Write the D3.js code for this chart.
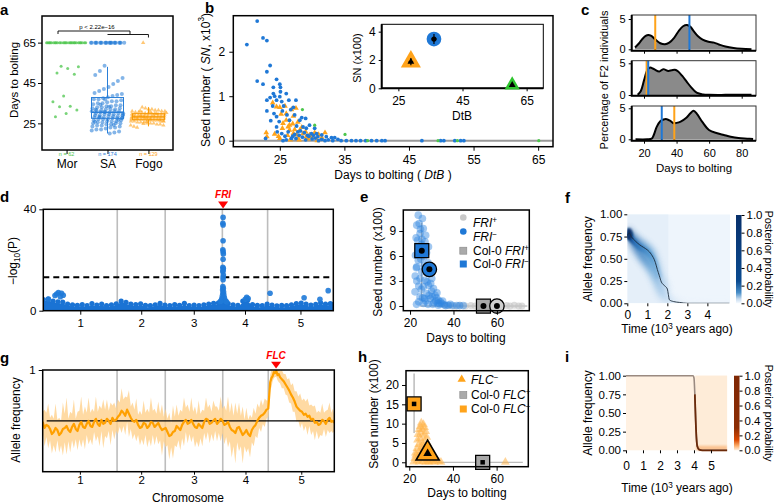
<!DOCTYPE html>
<html><head><meta charset="utf-8">
<script src="https://cdn.jsdelivr.net/npm/d3@7"></script>
<style>
body{margin:0;background:#fff;}
svg{display:block;font-family:'Liberation Sans',Arial,Helvetica,sans-serif;}
</style></head><body>
<svg id="fig" width="776" height="504"></svg>
<script>
// ================= DATA =================
// Panel a
const groupsA = ["Mor", "SA", "Fogo"];
const countLabelsA = ["n = 62", "n = 174", "n = 129"];
const pLabelA = "p < 2.22e\u221216";
const morDays = [65,65,65,65,65,65,65,65,65,65,65,65,65,65,65,65,65,65,65,65,65,65,65,65,65,65,65,65,
  53.3,53,52.2,50,49.3,38.5,35.7,33.5,33.2,31.6,29.9,28.3];
const saDays = [65,65,65,65,65,65,65,65,65,65,65,65,65,65,65,65,65,65,65,65,65,65,
  53.5,51,49,47.5,46,44.5,43,42,41,40,39.5,39,38.5,38,37.5,37,37,36.5,36,36,35.5,35,35,34.5,34,34,33.5,33.5,
  33,33,32.5,32.5,32,32,32,31.5,31.5,31,31,31,30.5,30.5,30.5,30,30,30,29.5,29.5,29.5,29,29,29,28.5,28.5,28.5,
  28,28,28,27.5,27.5,27.5,27,27,27,26.5,26.5,26,26,26,25.5,25.5,25,25,25,24.5,24.5,24,24,23.5,23.5,23,23,22.5,
  22,22,21.5,21,20.5,20,36.8,34.2,31.8,29.2,26.8,24.2,33.2,30.8,28.2,25.8,27.8];
const fogoDays = [65,33,32.5,32,32,31.5,31.5,31,31,31,30.5,30.5,30.5,30,30,30,30,29.5,29.5,29.5,29.5,29,29,29,29,29,
  28.5,28.5,28.5,28.5,28.5,28,28,28,28,28,28,27.5,27.5,27.5,27.5,27.5,27,27,27,27,27,26.5,26.5,26.5,26.5,26,26,26,26,
  25.5,25.5,25.5,25,25,25,24.5,24.5,24,24,23.5,23,28.8,28.2,27.8,27.2,29.2,29.8,26.8,26.2,30.2,28.6,27.4,31.2,24.8,25.8,30.8];
const saBox = [20, 27.5, 30.5, 37.8, 53];     // min, q1, median, q3, max
const fogoBox = [23.5, 26.8, 28.2, 29.8, 33];

// Panel b  [days to bolting, seed number x1000]
const bSA = [[19.9,2.16],[21.5,2.69],[22.4,2.31],[23.0,2.25],[21.5,1.34],[22.4,1.27],[23.5,1.69],[23.0,1.55],[24.5,1.38],
  [24.0,1.2],[24.0,1.06],[23.5,0.97],[23.0,0.91],[23.0,0.67],[23.9,0.78],[24.1,0.61],[24.5,0.54],[25.0,1.27],[25.1,1.2],
  [25.1,1.1],[25.0,0.99],[25.3,0.88],[24.5,0.91],[25.4,0.67],[24.9,0.43],[24.5,0.31],[25.3,0.16],[25.5,0.0],[26.0,1.06],
  [26.4,0.91],[26.1,0.58],[26.5,0.46],[26.3,0.2],[27.1,0.75],[27.5,0.91],[27.3,0.58],[27.6,0.33],[27.8,0.2],[28.1,0.46],
  [28.4,0.52],[28.6,0.31],[29.0,0.5],[29.1,0.28],[29.6,0.35],[29.9,0.16],[30.4,0.28],[30.7,0.16],[30.9,0.09],[31.5,0.13],
  [32.2,0.09],[33.0,0.07],[33.5,0.07],[34.0,0.03],[27.0,0.1],[27.5,0.05],[28.0,0.12],[28.5,0.08],[29.0,0.02],[29.5,0.1],
  [30.0,0.04],[30.5,0.06],[31.0,0.0],[31.5,0.03],[32.0,0.0],[28.2,0.22],[28.8,0.18],[29.3,0.12],[30.2,0.12],[27.3,0.14],
  [26.8,0.05],[26.0,0.02],[25.8,0.1],[32.5,0.02],[33.2,0.0],[34.5,0],[35.3,0],[36.1,0],[36.8,0],[37.5,0],[38.3,0],[39.2,0],
  [40.0,0],[40.8,0],[41.3,0],[47.0,0],[49.9,0],[50.4,0],[52.1,0],[53.0,0],[53.5,0],[24.2,1.0],[25.6,0.78],[26.7,0.7],
  [23.6,0.45],[24.6,0.2],[22.8,0.05]];
const bFogo = [[22.9,0.18],[23.0,0.09],[23.9,0.85],[24.5,0.76],[25.0,0.75],[25.4,0.28],[25.8,0.78],[26.0,0.61],[26.3,0.31],
  [26.8,0.7],[27.1,0.55],[27.5,0.73],[26.5,0.24],[27.1,0.16],[27.6,0.13],[27.8,0.05],[28.1,0.24],[28.6,0.16],[29.1,0.09],
  [29.6,0.13],[30.4,0.18],[31.5,0.07],[32.0,0.18],[25.5,0.39],[26.0,0.46],[26.5,0.35],[25.2,0.6],[24.8,0.1],[26.2,0.12],
  [27.0,0.38],[27.8,0.42],[28.4,0.3],[29.0,0.2],[28.0,0.02],[29.4,0.04],[30.0,0.08],[26.6,0.02],[25.0,0.05],[24.2,0.15],
  [30.8,0.0],[31.0,0.14],[27.3,0.25]];
const bMor = [[28.5,0.7],[30.4,0.35],[35.1,0.14],[38.6,0],[49.5,0],[52.5,0],[65.1,0]];
// inset means (Fogo, SA, Mor)
const insetDtB = [28.9, 36.1, 60.5];
const insetSN = [1.88, 3.48, 0.23];
const insetDtBErr = [0.7, 0.8, 0.6];
const insetSNErr = [0.25, 0.35, 0.12];

// Panel c  densities [days, %]
const c1Density = [[14.5,0.3],[17,1.0],[19,1.7],[21,2.2],[22.6,2.36],[24.5,2.2],[27,1.6],[30,1.0],[32.9,0.83],[35.5,1.1],
  [38.5,1.9],[41.5,3.1],[44,3.8],[46.4,4.0],[48.5,3.7],[50.5,3.0],[53,2.2],[56,1.6],[59.6,1.25],[63,1.1],[66,0.8],[70,0.45],
  [75,0.2],[80,0.08],[86,0.02]];
const c2Density = [[16.1,0.05],[18,0.6],[20,2.3],[22,3.9],[23.7,4.33],[26,4.1],[29.4,3.7],[31.8,4.08],[34.9,3.8],[37,3.9],
  [39,3.97],[41,3.7],[43.5,3.0],[46.2,2.1],[49,1.2],[52.3,0.36],[56.4,0.08],[60,0.03],[70,0.02],[80,0.03],[86,0.02]];
const c3Density = [[14.8,0],[22,0],[24.7,0.1],[26,0.7],[27.8,2.0],[30,2.9],[32,3.2],[34,3.25],[36,3.0],[38,2.6],[40,2.65],
  [42.5,2.85],[46.2,3.5],[48.5,4.2],[50.5,4.6],[52.5,4.1],[55.8,2.8],[59.9,1.5],[65,0.97],[69,0.7],[73.2,0.42],[78,0.2],
  [83.4,0.1],[87,0.03]];
const cOrangeLines = [26.9, 21.6, 38.6];
const cBlueLines = [47.9, 22.6, 30.9];

// Panel d (genome in Mb)
const chrNames = ["1","2","3","4","5"];
const chrLen = [30.4, 19.7, 23.5, 18.6, 27.0];
const dThreshold = 13.2;
const friPos = 73.9;
const flcPos = 95.4;
const dBand = [[0,4.4],[2,4.6],[4,3.8],[6,3.5],[8,3.4],[10,2.6],[12,2.3],[14,2.1],[16,2.4],[18,2.0],[20,2.8],[22,2.2],
  [24,2.6],[26,2.0],[28,2.3],[30,2.7],[32,3.8],[34,3.3],[36,2.6],[38,2.4],[40,2.7],[42,2.1],[44,2.0],[46,2.3],[48,2.9],
  [50,2.2],[52,2.0],[54,2.4],[56,2.1],[58,2.9],[60,2.0],[62,2.2],[64,2.0],[66,2.3],[68,2.6],[70,2.9],[72,3.1],[74,3.5],
  [76,2.8],[78,2.3],[80,2.1],[82,3.8],[84,4.2],[86,2.4],[88,2.1],[90,2.0],[92,2.6],[94,2.2],[96,1.9],[98,2.1],[100,2.0],
  [102,2.3],[104,2.8],[106,3.0],[108,2.6],[110,2.2],[112,2.5],[114,3.1],[116,2.6],[118,2.8],[119.2,2.4]];
const dPoints = [[2.1,4.6],[4.8,6.0],[6.2,7.2],[7.5,6.9],[8.2,6.1],[5.5,6.6],[7.0,5.5],
  [73.9,36.8],[73.8,34.5],[73.9,33.8],[73.9,27.6],[73.8,24],[73.9,23.3],[74.0,22.4],[73.9,20.3],[73.8,17.1],[74.0,16.6],
  [73.9,15.9],[73.8,15.4],[74.0,14.1],[73.9,13.2],[73.9,12.2],[73.8,9.5],[74.0,8.8],[73.7,8.2],[74.1,7.4],[73.8,6.9],
  [74.2,6.3],[73.6,5.8],[74.4,5.2],[73.4,4.8],[74.6,4.3],[73.1,4.0],[74.9,3.8],[72.8,3.6],[75.3,3.5],
  [83.6,5.3],[84.2,4.8],[83.0,4.5],[93.2,6.9],[107.2,5.1],[113.7,4.5],[117.1,7.9]];

// Panel e  [days, seeds x100]
const eFRIminus = [[23.8,10.9],[25.7,10.5],[23.1,9.7],[26.1,9.3],[24.6,8.7],[27.2,8.5],[23.5,7.9],[26.9,7.7],[28.5,7.1],
  [22.8,8.2],[24.2,9.9],[25.3,7.4],[23.9,6.9],[27.6,6.4],[22.5,6.1],[26.4,5.9],[23.8,5.5],[28.3,5.2],[23.1,4.7],[25.4,4.1],
  [27.0,4.6],[24.6,3.3],[26.9,3.1],[22.4,3.6],[26.1,2.3],[28.5,2.5],[30.0,3.3],[30.8,2.1],[27.7,1.5],[31.5,1.3],[29.2,0.9],
  [33.1,0.7],[34.6,0.3],[24.6,1.1],[22.3,1.7],[23.1,3.0],[25.2,2.0],[27.2,0.6],[29.9,1.8],[32.2,1.0],[31.0,0.4],[35.8,0.15],
  [37.5,0.1],[28.3,0.2],[26.2,0.3],[24.0,0.5],[23.0,0.2],[30.5,0.2],[33.0,0.1],[39.5,0.05],[41.5,0.05],[36.4,0.05],
  [29.0,3.9],[28.0,4.0],[29.5,2.7],[26.5,4.9],[25.0,5.6],[24.0,2.4],[32.4,1.6],[27.8,2.9],[25.8,1.0],[28.8,1.3],[31.8,0.6],
  [34.0,0.5],[30.2,1.1],[27.0,6.8],[25.5,8.0],[24.8,9.2],[22.9,4.6],[26.7,0.9],[33.7,0.25],[35.0,0.6],[38.5,0.2],[42.8,0.05],
  [44.5,0.05],[32.8,0.35]];
const eFRIplus = [[36,0.1],[38,0.05],[40.5,0],[43,0.1],[45.5,0],[48,0.05],[50,0],[52,0.1],[55,0],[57.5,0.05],[59,0.1],
  [62,0],[64.5,0.05],[66,0],[68,0.1],[70,0],[71.5,0]];
const eCol0 = [[53.8,0],[25.4,6.64]];        // Col-0 FRI+, Col-0 FRI-
const eMeans = [[60,0],[28.9,4.4]];           // FRI+, FRI-
const eLegend = [["", "FRI", "+"], ["", "FRI", "\u2212"], ["Col-0 ", "FRI", "+"], ["Col-0 ", "FRI", "\u2212"]];

// Panel f  (time in 10^3 years, allele frequency)
const fTime = [0,0.1,0.2,0.4,0.6,0.8,1.0,1.2,1.4,1.5,1.6,1.7,1.8,1.9,2.0,2.05,2.1,2.3,2.6,3.0,4.0,5.1];
const fMean = [0.76,0.79,0.75,0.70,0.66,0.63,0.60,0.55,0.46,0.38,0.31,0.24,0.21,0.19,0.16,0.10,0.04,0.02,0.01,0.0,0.0,0.0];
const fLow  = [0.71,0.70,0.64,0.56,0.49,0.43,0.37,0.29,0.19,0.13,0.08,0.05,0.03,0.02,0.01,0.0,0,0,0,0,0,0];
const fHigh = [0.82,0.85,0.81,0.77,0.73,0.70,0.67,0.63,0.57,0.51,0.45,0.37,0.31,0.27,0.23,0.17,0.09,0.05,0.03,0.015,0.01,0.01];
const probTicks = [0, 0.2, 0.4, 0.6, 0.8, 1.0];
const freqTicks = [0, 0.25, 0.5, 0.75, 1.0];

// Panel g  [Mb, allele frequency, band half-width]
const gProfile = [[0,0.49,0.10],[0.75,0.43,0.18],[1.5,0.46,0.12],[2.25,0.45,0.22],[3,0.42,0.11],[3.75,0.37,0.19],[4.5,0.39,0.13],
  [5.25,0.43,0.24],[6,0.41,0.10],[6.75,0.36,0.17],[7.5,0.38,0.12],[8.25,0.42,0.26],[9,0.43,0.14],[9.75,0.45,0.28],[10.5,0.41,0.11],
  [11.25,0.39,0.20],[12,0.44,0.13],[12.75,0.47,0.24],[13.5,0.42,0.10],[14.25,0.40,0.19],[15,0.46,0.14],[15.75,0.49,0.25],
  [16.5,0.44,0.12],[17.25,0.43,0.21],[18,0.47,0.11],[18.75,0.50,0.23],[19.5,0.45,0.13],[20.25,0.44,0.18],[21,0.49,0.10],
  [21.75,0.52,0.22],[22.5,0.47,0.12],[23.25,0.45,0.20],[24,0.51,0.11],[24.75,0.47,0.24],[25.5,0.48,0.13],[26.25,0.52,0.19],
  [27,0.50,0.10],[27.75,0.47,0.21],[28.5,0.53,0.12],[29.25,0.50,0.18],[30,0.51,0.11],[30.75,0.54,0.17],[31.5,0.56,0.12],
  [32.25,0.60,0.22],[33,0.58,0.13],[33.75,0.55,0.19],[34.5,0.61,0.12],[35.25,0.57,0.23],[36,0.53,0.11],[36.75,0.50,0.18],
  [37.5,0.49,0.12],[38.25,0.51,0.21],[39,0.46,0.10],[39.75,0.43,0.17],[40.5,0.44,0.12],[41.25,0.48,0.22],[42,0.47,0.11],
  [42.75,0.43,0.19],[43.5,0.45,0.13],[44.25,0.49,0.24],[45,0.48,0.12],[45.75,0.44,0.18],[46.5,0.46,0.11],[47.25,0.48,0.21],
  [48,0.44,0.13],[48.75,0.41,0.25],[49.5,0.42,0.12],[50.25,0.43,0.19],[51,0.39,0.13],[51.75,0.35,0.23],[52.5,0.36,0.12],
  [53.25,0.39,0.26],[54,0.40,0.14],[54.75,0.45,0.21],[55.5,0.43,0.12],[56.25,0.41,0.20],[57,0.46,0.13],[57.75,0.49,0.24],
  [58.5,0.51,0.12],[59.25,0.47,0.19],[60,0.48,0.11],[60.75,0.51,0.22],[61.5,0.47,0.12],[62.25,0.44,0.20],[63,0.43,0.13],
  [63.75,0.47,0.23],[64.5,0.45,0.12],[65.25,0.43,0.18],[66,0.49,0.11],[66.75,0.52,0.21],[67.5,0.51,0.12],[68.25,0.47,0.19],
  [69,0.48,0.11],[69.75,0.50,0.20],[70.5,0.52,0.12],[71.25,0.47,0.17],[72,0.49,0.11],[72.75,0.52,0.22],[73.5,0.50,0.12],
  [74.25,0.46,0.19],[75,0.47,0.13],[75.75,0.49,0.25],[76.5,0.44,0.14],[77.25,0.41,0.27],[78,0.40,0.15],[78.75,0.38,0.30],
  [79.5,0.43,0.14],[80.25,0.44,0.24],[81,0.40,0.15],[81.75,0.36,0.28],[82.5,0.38,0.13],[83.25,0.41,0.22],[84,0.37,0.14],
  [84.75,0.35,0.21],[85.5,0.41,0.12],[86.25,0.44,0.19],[87,0.46,0.11],[87.75,0.50,0.17],[88.5,0.53,0.10],[89.25,0.55,0.16],
  [90,0.56,0.09],[90.75,0.58,0.14],[91.5,0.61,0.09],[92.2,0.62,0.08],[92.6,0.75,0.10],[93,0.88,0.07],[93.5,0.92,0.09],
  [94,0.94,0.05],[94.5,0.98,0.06],[95,0.97,0.04],[95.5,0.99,0.06],[96,0.95,0.05],[96.5,0.96,0.08],[97,0.93,0.06],
  [97.75,0.91,0.09],[98.5,0.89,0.07],[99.25,0.86,0.10],[100,0.83,0.08],[100.75,0.80,0.12],[101.5,0.76,0.09],[102.25,0.73,0.14],
  [103,0.69,0.10],[103.75,0.64,0.15],[104.5,0.62,0.12],[105.25,0.60,0.17],[106,0.59,0.11],[106.75,0.56,0.16],[107.5,0.57,0.12],
  [108.25,0.54,0.18],[109,0.55,0.10],[109.75,0.51,0.15],[110.5,0.52,0.12],[111.25,0.48,0.17],[112,0.49,0.09],[112.75,0.46,0.14],
  [113.5,0.47,0.11],[114.25,0.51,0.16],[115,0.50,0.08],[115.75,0.47,0.13],[116.5,0.51,0.10],[117.25,0.53,0.15],[118,0.49,0.09],
  [118.6,0.50,0.12],[119.2,0.48,0.08]];

// Panel h
const hFLCminus = [[25.5,10.2],[26.5,9.8],[25,9.3],[27,9],[24.5,8.5],[26,8.6],[27.5,8],[25.3,7.6],[24,7.2],[26.8,7],[28,6.5],
  [25,6.2],[23.8,5.8],[27.2,5.5],[26,5],[24.3,4.6],[28.5,4.8],[25.6,4],[23.5,3.6],[27,3.4],[29,3.6],[24.8,3],[26.2,2.6],
  [22.8,2.4],[30,2.2],[28,1.8],[24,1.6],[25.5,1.2],[22.5,1.0],[27,0.8],[29.5,0.9],[31,1.2],[32.5,0.6],[23.5,0.4],[26,0.2],
  [28.5,0.3],[30.5,0.2],[33.5,0.2],[34.5,0.05],[22,0.1],[24.5,0.1],[27.5,0.05],[31.5,0.05],[29,0.1],[25,2.2],[26.8,1.5],
  [30.8,0.6],[23,1.9],[28.2,2.8],[26.5,3.9],[64,0.05]];
const hCol0 = [[53.6,0],[22.2,15.1]];   // Col-0 FLC+, Col-0 FLC-
const hMean = [28.4, 2.3];              // FLC- mean
const hLegend = [["", "FLC", "\u2212"], ["Col-0 ", "FLC", "+"], ["Col-0 ", "FLC", "\u2212"]];

// Panel i
const iTime = [0,3.95,4.0,4.05,4.1,4.15,4.2,4.3,4.5,5.96];
const iMean = [1,1,0.97,0.75,0.4,0.15,0.05,0.01,0,0];

// ================= DRAWING =================
const svg = d3.select("#fig");
const defs = svg.append("defs");
const colMor = "#4cc64c", colSA = "#1f78d6", colFogo = "#ffa31a";
const jit = i => ((i * 0.6180339887) % 1) - 0.5;
const fmtInt = d3.format("d");

function panelLabel(t, x, y) {
  svg.append("text").attr("x", x).attr("y", y).attr("font-size", 15).attr("font-weight", "bold").text(t);
}
function frame(x0, y0, x1, y1, w) {
  svg.append("rect").attr("x", x0).attr("y", y0).attr("width", x1 - x0).attr("height", y1 - y0)
    .attr("fill", "none").attr("stroke", "#000").attr("stroke-width", w || 1.3);
}
function addParts(t, parts, fs) {
  parts.forEach(p => {
    if (typeof p === "string") { t.append("tspan").text(p); return; }
    const s = t.append("tspan").text(p.t);
    if (p.i) s.attr("font-style", "italic");
    if (p.sup) s.attr("baseline-shift", "super").attr("font-size", fs * 0.68);
    if (p.sub) s.attr("baseline-shift", "sub").attr("font-size", fs * 0.68);
  });
  return t;
}
function title(x, y, parts, fs, rot) {
  const t = svg.append("text").attr("font-size", fs).attr("text-anchor", "middle");
  if (rot) t.attr("transform", `translate(${x},${y}) rotate(${rot})`).attr("dominant-baseline", "central");
  else t.attr("x", x).attr("y", y);
  return addParts(t, parts, fs);
}
function xAxis(gen, y, fs, base) {
  const g = svg.append("g").attr("transform", `translate(0,${y})`).call(gen);
  g.select(".domain").remove();
  g.attr("font-family", null).attr("font-size", null);
  g.selectAll(".tick line").attr("stroke", "#000");
  g.selectAll(".tick text").attr("font-size", fs).attr("fill", "#000").attr("dy", null).attr("y", base);
  return g;
}
function yAxis(gen, x, fs) {
  const g = svg.append("g").attr("transform", `translate(${x},0)`).call(gen);
  g.select(".domain").remove();
  g.attr("font-family", null).attr("font-size", null);
  g.selectAll(".tick line").attr("stroke", "#000");
  g.selectAll(".tick text").attr("font-size", fs).attr("fill", "#000");
  return g;
}
function clip(id, x0, y0, x1, y1) {
  defs.append("clipPath").attr("id", id).append("rect").attr("x", x0).attr("y", y0).attr("width", x1 - x0).attr("height", y1 - y0);
}
defs.append("filter").attr("id", "blur3").attr("x", "-20%").attr("y", "-20%").attr("width", "140%").attr("height", "140%")
  .append("feGaussianBlur").attr("stdDeviation", 3);
defs.append("filter").attr("id", "blur1").attr("x", "-20%").attr("y", "-20%").attr("width", "140%").attr("height", "140%")
  .append("feGaussianBlur").attr("stdDeviation", 1.3);
const tri = s => d3.symbol(d3.symbolTriangle, s)();
const sq = s => d3.symbol(d3.symbolSquare, s * s)();

// ---------- Panel a ----------
panelLabel("a", 0, 15);
const xA = d3.scalePoint().domain(groupsA).range([42, 173]).padding(0.6);
const yA = d3.scaleLinear().domain([11.8, 78.2]).range([150, 16]);
const gA = svg.append("g");
morDays.forEach((v, i) => {
  const sp = v === 65 ? 20 : 14;
  gA.append("circle").attr("cx", xA("Mor") + jit(i) * 2 * sp).attr("cy", yA(v)).attr("r", 1.5)
    .attr("fill", colMor).attr("opacity", 0.75);
});
saDays.forEach((v, i) => {
  const sp = v === 65 ? 17 : 16;
  gA.append("circle").attr("cx", xA("SA") + jit(i * 3 + 1) * 2 * sp).attr("cy", yA(v)).attr("r", 2)
    .attr("fill", colSA).attr("opacity", 0.55);
});
fogoDays.forEach((v, i) => {
  const sp = v === 65 ? 10 : 18;
  gA.append("path").attr("d", tri(8)).attr("transform", `translate(${xA("Fogo") + jit(i * 5 + 2) * 2 * sp},${yA(v)})`)
    .attr("fill", colFogo).attr("opacity", 0.6);
});
function boxplot(stats, cx, hw, col) {
  const g = svg.append("g").attr("stroke", col).attr("fill", "none").attr("stroke-width", 1);
  g.append("rect").attr("x", cx - hw).attr("y", yA(stats[3])).attr("width", 2 * hw).attr("height", yA(stats[1]) - yA(stats[3]));
  g.append("line").attr("x1", cx - hw).attr("x2", cx + hw).attr("y1", yA(stats[2])).attr("y2", yA(stats[2])).attr("stroke-width", 1.4);
  g.append("line").attr("x1", cx).attr("x2", cx).attr("y1", yA(stats[3])).attr("y2", yA(stats[4]));
  g.append("line").attr("x1", cx).attr("x2", cx).attr("y1", yA(stats[1])).attr("y2", yA(stats[0]));
}
boxplot(saBox, xA("SA"), 16, "#2a7fd8");
boxplot(fogoBox, xA("Fogo"), 16, "#f79800");
frame(42, 16, 173, 150, 1.5);
xAxis(d3.axisBottom(xA).tickSize(4), 150, 12, 18);
yAxis(d3.axisLeft(yA).tickValues([25, 45, 65]).tickFormat(fmtInt).tickSize(4).tickPadding(2), 42, 11.5);
title(14, 80, ["Days to bolting"], 11.5, -90);
// significance brackets
const brk = svg.append("g").attr("stroke", "#000").attr("stroke-width", 0.9).attr("fill", "none");
brk.append("path").attr("d", `M58,34V31H130V34`);
brk.append("path").attr("d", `M${xA("SA")},34.5H${xA("Fogo")}V37.5`);
svg.append("text").attr("x", 97).attr("y", 29).attr("font-size", 6).attr("text-anchor", "middle").text(pLabelA);
const nCols = [colMor, colSA, colFogo];
groupsA.forEach((g, i) => {
  svg.append("text").attr("x", xA(g)).attr("y", 156).attr("font-size", 5.5).attr("text-anchor", "middle")
    .attr("fill", nCols[i]).text(countLabelsA[i]);
});

// ---------- Panel b ----------
panelLabel("b", 205, 13);
const xB = d3.scaleLinear().domain([17.8, 67.3]).range([233.3, 553]);
const yB = d3.scaleLinear().domain([-0.135, 2.81]).range([146.7, 15.7]);
svg.append("line").attr("x1", 233.3).attr("x2", 553).attr("y1", yB(0)).attr("y2", yB(0)).attr("stroke", "#999").attr("stroke-width", 2);
bFogo.forEach(d => svg.append("path").attr("d", tri(14)).attr("transform", `translate(${xB(d[0])},${yB(d[1])})`).attr("fill", colFogo));
bSA.forEach(d => svg.append("circle").attr("cx", xB(d[0])).attr("cy", yB(d[1])).attr("r", 1.9).attr("fill", colSA));
bMor.forEach(d => svg.append("circle").attr("cx", xB(d[0])).attr("cy", yB(d[1])).attr("r", 1.6).attr("fill", colMor));
frame(233.3, 15.7, 553, 146.7, 1.5);
xAxis(d3.axisBottom(xB).tickValues([25, 35, 45, 55, 65]).tickFormat(fmtInt).tickSize(4), 146.7, 12, 17.5);
yAxis(d3.axisLeft(yB).tickValues([0, 1, 2]).tickFormat(fmtInt).tickSize(4).tickPadding(4), 233.3, 12);
title(393, 179, ["Days to bolting ( ", { t: "DtB", i: true }, " )"], 12);
title(206, 80, ["Seed number ( ", { t: "SN", i: true }, ", x10", { t: "3", sup: true }, ")"], 12, -90);
// inset
const xIn = d3.scaleLinear().domain([19.8, 70.2]).range([381.7, 543.3]);
const yIn = d3.scaleLinear().domain([0, 4.52]).range([88.3, 24.3]);
svg.append("rect").attr("x", 381.7).attr("y", 24.3).attr("width", 161.6).attr("height", 64).attr("fill", "#fff")
  .attr("stroke", "#000").attr("stroke-width", 1);
svg.append("path").attr("d", `M381.7,24.3V88.3H543.3`).attr("stroke", "#000").attr("stroke-width", 2).attr("fill", "none");
const inCols = [colFogo, "#1f78d6", "#2ec52e"];
const inShapes = [tri(175), d3.symbol(d3.symbolCircle, 170)(), tri(100)];
insetDtB.forEach((v, i) => {
  const cx = xIn(v), cy = yIn(insetSN[i]);
  svg.append("path").attr("d", inShapes[i]).attr("transform", `translate(${cx},${cy})`).attr("fill", inCols[i]);
  svg.append("line").attr("x1", cx).attr("x2", cx).attr("y1", yIn(insetSN[i] - insetSNErr[i])).attr("y2", yIn(insetSN[i] + insetSNErr[i])).attr("stroke", "#000").attr("stroke-width", 1.2);
  svg.append("line").attr("x1", xIn(v - insetDtBErr[i])).attr("x2", xIn(v + insetDtBErr[i])).attr("y1", cy).attr("y2", cy).attr("stroke", "#000").attr("stroke-width", 1.2);
  if (i === 1) svg.append("circle").attr("cx", cx).attr("cy", cy).attr("r", 2.6).attr("fill", "#000");
  else svg.append("path").attr("d", tri(20)).attr("transform", `translate(${cx},${cy})`).attr("fill", "#000");
});
xAxis(d3.axisBottom(xIn).tickValues([25, 45, 65]).tickFormat(fmtInt).tickSize(3), 88.3, 12, 17);
yAxis(d3.axisLeft(yIn).tickValues([0, 2, 4]).tickFormat(fmtInt).tickSize(3).tickPadding(3), 381.7, 12);
title(462, 120, ["DtB"], 12);
title(357, 58, ["SN (x100)"], 11, -90);

// ---------- Panel c ----------
panelLabel("c", 581, 15);
const xC = d3.scaleLinear().domain([20, 80]).range([644, 741.7]);
const cTops = [15, 60.7, 106], cBots = [50.7, 95.7, 140.7], cY5 = [19, 63.3, 108.3], cY0 = [49.3, 95, 139.3];
const cData = [c1Density, c2Density, c3Density];
cData.forEach((dens, k) => {
  const yC = d3.scaleLinear().domain([0, 5]).range([cY0[k], cY5[k]]);
  const area = d3.area().x(d => xC(d[0])).y0(yC(0)).y1(d => yC(d[1])).curve(d3.curveCatmullRom);
  svg.append("path").datum(dens).attr("d", area).attr("fill", "#8a8a8a");
  svg.append("path").datum(dens).attr("d", area.lineY1()).attr("fill", "none").attr("stroke", "#000").attr("stroke-width", 2);
  [[cOrangeLines[k], colFogo], [cBlueLines[k], "#1f78d6"]].forEach(([v, c]) => {
    svg.append("line").attr("x1", xC(v)).attr("x2", xC(v)).attr("y1", cTops[k]).attr("y2", cBots[k]).attr("stroke", c).attr("stroke-width", 2);
  });
  svg.append("rect").attr("x", 631.7).attr("y", cTops[k]).attr("width", 124.3).attr("height", cBots[k] - cTops[k])
    .attr("fill", "none").attr("stroke", "#333").attr("stroke-width", 1);
  svg.append("path").attr("d", `M631.7,${cTops[k]}V${cBots[k]}H756`).attr("fill", "none").attr("stroke", "#000").attr("stroke-width", 2);
  yAxis(d3.axisLeft(yC).tickValues([0, 5]).tickFormat(fmtInt).tickSize(3).tickPadding(3), 631.7, 11);
  const ax = xAxis(d3.axisBottom(xC).tickValues([20, 40, 60, 80]).tickFormat(fmtInt).tickSize(3), cBots[k], 11, 16);
  if (k < 2) ax.selectAll("text").remove();
});
title(694, 172, ["Days to bolting"], 11.5);
title(604, 80, ["Percentage of F2 individuals"], 11, -90);

// ---------- Panel d ----------
panelLabel("d", 0, 202);
const chrStart = d3.cumsum([0].concat(chrLen.slice(0, -1)));
const chrMid = chrLen.map((l, i) => chrStart[i] + l / 2);
const genomeLen = d3.sum(chrLen);
const xD = d3.scaleLinear().domain([0, genomeLen]).range([43.3, 333.3]);
const yD = d3.scaleLinear().domain([0, 40]).range([310.7, 209.3]);
clip("clipD", 43.3, 209.3, 333.3, 310.7);
const gD = svg.append("g").attr("clip-path", "url(#clipD)");
chrStart.slice(1).forEach(s => gD.append("line").attr("x1", xD(s)).attr("x2", xD(s)).attr("y1", 209.3).attr("y2", 310.7)
  .attr("stroke", "#bdbdbd").attr("stroke-width", 1.6));
gD.append("line").attr("x1", 43.3).attr("x2", 333.3).attr("y1", yD(dThreshold)).attr("y2", yD(dThreshold))
  .attr("stroke", "#000").attr("stroke-width", 2).attr("stroke-dasharray", "6,4");
gD.append("path").datum(dBand).attr("d", d3.area().x(d => xD(d[0])).y0(yD(0) + 2).y1(d => yD(d[1]) + 1.5).curve(d3.curveMonotoneX))
  .attr("fill", "#1a73d4");
dBand.forEach(d => gD.append("circle").attr("cx", xD(d[0])).attr("cy", yD(d[1])).attr("r", 2.6).attr("fill", "#1a73d4"));
dPoints.forEach(d => gD.append("circle").attr("cx", xD(d[0])).attr("cy", yD(d[1])).attr("r", 2.8).attr("fill", "#1f7ad8").attr("opacity", 0.9));
frame(43.3, 209.3, 333.3, 310.7, 1.5);
xAxis(d3.axisBottom(xD).tickValues(chrMid).tickFormat((d, i) => chrNames[i]).tickSize(4), 310.7, 11.5, 16.3);
yAxis(d3.axisLeft(yD).tickValues([0, 40]).tickFormat(fmtInt).tickSize(4).tickPadding(3), 43.3, 11.5);
title(13, 261, ["\u2212log", { t: "10", sub: true }, "(P)"], 12, -90);
svg.append("text").attr("x", xD(friPos)).attr("y", 198).attr("text-anchor", "middle").attr("font-size", 10)
  .attr("font-weight", "bold").attr("font-style", "italic").attr("fill", "#ff0000").text("FRI");
svg.append("path").attr("d", `M${xD(friPos) - 5},201.5H${xD(friPos) + 5}L${xD(friPos)},208.5Z`).attr("fill", "#ff0000");

// ---------- Panel e ----------
panelLabel("e", 360, 202);
const xE = d3.scaleLinear().domain([16.9, 74.9]).range([403.3, 529.3]);
const yE = d3.scaleLinear().domain([-0.56, 11.52]).range([310.7, 210]);
svg.append("line").attr("x1", xE(24.6)).attr("x2", xE(74)).attr("y1", yE(0)).attr("y2", yE(0)).attr("stroke", "#aaa").attr("stroke-width", 1);
svg.append("line").attr("x1", xE(eCol0[1][0])).attr("x2", xE(eCol0[1][0])).attr("y1", yE(0.7)).attr("y2", yE(10)).attr("stroke", "#999").attr("stroke-width", 1);
eFRIplus.forEach(d => svg.append("circle").attr("cx", xE(d[0])).attr("cy", yE(d[1])).attr("r", 3.5).attr("fill", "#c4c4c4").attr("opacity", 0.6));
eFRIminus.forEach(d => svg.append("circle").attr("cx", xE(d[0])).attr("cy", yE(d[1])).attr("r", 3.8).attr("fill", "#2f86e0").attr("opacity", 0.45));
const eCols = ["#a8a8a8", "#1f78d6"];
eCol0.forEach((d, i) => {
  svg.append("path").attr("d", sq(14)).attr("transform", `translate(${xE(d[0])},${yE(d[1])})`).attr("fill", eCols[i]).attr("stroke", "#000").attr("stroke-width", 1.2);
  svg.append("circle").attr("cx", xE(d[0])).attr("cy", yE(d[1])).attr("r", 3).attr("fill", "#000");
});
const eMeanCols = ["#cfcfcf", "#1f78d6"];
eMeans.forEach((d, i) => {
  svg.append("circle").attr("cx", xE(d[0])).attr("cy", yE(d[1])).attr("r", 7.2).attr("fill", eMeanCols[i]).attr("stroke", "#000").attr("stroke-width", 1.3);
  svg.append("circle").attr("cx", xE(d[0])).attr("cy", yE(d[1])).attr("r", 3).attr("fill", "#000");
});
frame(403.3, 210, 529.3, 310.7, 1.5);
xAxis(d3.axisBottom(xE).tickValues([20, 40, 60]).tickFormat(fmtInt).tickSize(4), 310.7, 12, 16.6);
yAxis(d3.axisLeft(yE).tickValues([0, 3, 6, 9]).tickFormat(fmtInt).tickSize(4).tickPadding(3), 403.3, 12);
title(466, 342, ["Days to bolting"], 12);
title(378, 262, ["Seed number (x100)"], 12, -90);
const eSymY = [217.5, 231.5, 250.7, 264], eTxtY = [226.5, 240.5, 254.7, 268];
const eSymFill = ["#c8c8c8", "#1f78d6", "#aaaaaa", "#1f78d6"];
eLegend.forEach((p, i) => {
  if (i < 2) svg.append("circle").attr("cx", 463.3).attr("cy", eSymY[i]).attr("r", 3.3).attr("fill", eSymFill[i]);
  else svg.append("rect").attr("x", 459.8).attr("y", eSymY[i] - 3.5).attr("width", 7).attr("height", 7).attr("fill", eSymFill[i]).attr("stroke", i === 2 ? "#888" : "none").attr("stroke-width", 0.6);
  const t = svg.append("text").attr("x", 473).attr("y", eTxtY[i]).attr("font-size", 12);
  addParts(t, [p[0], { t: p[1], i: true }, { t: p[2], sup: true }], 12);
});

// ---------- Panel f ----------
panelLabel("f", 565, 203);
const xF = d3.scaleLinear().domain([0, 5.13]).range([627.3, 730]);
const yF = d3.scaleLinear().domain([0, 1]).range([303.3, 214.3]);
clip("clipF", 627.3, 214.3, 730, 303.3);
const gF = svg.append("g").attr("clip-path", "url(#clipF)");
gF.append("rect").attr("x", 627.3).attr("y", 214.3).attr("width", 102.7).attr("height", 89).attr("fill", "#eef5fc");
gF.append("rect").attr("x", 627.3).attr("y", 214.3).attr("width", xF(2.05) - 627.3).attr("height", 89).attr("fill", "#e5eff9");
const fg = defs.append("linearGradient").attr("id", "fBand").attr("gradientUnits", "userSpaceOnUse")
  .attr("x1", xF(0)).attr("x2", xF(3)).attr("y1", 0).attr("y2", 0);
[[0, "#0b3d80"], [0.12, "#2a6fb5"], [0.4, "#5c9fd4"], [0.62, "#b8d4ee"], [1, "#e6f0fa"]].forEach(s => fg.append("stop").attr("offset", s[0]).attr("stop-color", s[1]));
const fIdx = d3.range(fTime.length);
gF.append("path").datum(fIdx).attr("d", d3.area().x(i => xF(fTime[i])).y0(i => yF(fLow[i])).y1(i => yF(fHigh[i])).curve(d3.curveMonotoneX))
  .attr("fill", "url(#fBand)").attr("opacity", 0.85).attr("filter", "url(#blur3)");
gF.append("path").datum(fIdx.filter(i => fTime[i] <= 1.6)).attr("d", d3.line().x(i => xF(fTime[i])).y(i => yF(fMean[i]) + 2).curve(d3.curveMonotoneX))
  .attr("fill", "none").attr("stroke", "url(#fBand)").attr("stroke-width", 6).attr("filter", "url(#blur1)");
gF.append("ellipse").attr("cx", xF(0.07)).attr("cy", yF(0.78)).attr("rx", 4).attr("ry", 6).attr("fill", "#08306b").attr("filter", "url(#blur1)");
gF.append("path").datum(fIdx).attr("d", d3.line().x(i => xF(fTime[i])).y(i => yF(fMean[i])).curve(d3.curveMonotoneX))
  .attr("fill", "none").attr("stroke", "#1b2a3a").attr("stroke-width", 0.9);
xAxis(d3.axisBottom(xF).tickValues([0, 1, 2, 3, 4]).tickFormat(fmtInt).tickSize(3), 303.3, 12, 16);
yAxis(d3.axisLeft(yF).tickValues(freqTicks).tickFormat(d3.format(".2f")).tickSize(3).tickPadding(2), 627.3, 11.5);
title(677, 333, ["Time (10", { t: "3", sup: true }, " years ago)"], 12);
title(588, 259, ["Allele frequency"], 12, -90);
function colorbar(id, x, y0, y1, stops) {
  const lg = defs.append("linearGradient").attr("id", id).attr("x1", 0).attr("y1", 1).attr("x2", 0).attr("y2", 0);
  stops.forEach(s => lg.append("stop").attr("offset", s[0]).attr("stop-color", s[1]));
  svg.append("rect").attr("x", x).attr("y", y0).attr("width", 5.5).attr("height", y1 - y0).attr("fill", `url(#${id})`);
  const yS = d3.scaleLinear().domain([0, 1]).range([y1, y0]);
  return yAxis(d3.axisRight(yS).tickValues(probTicks).tickFormat(d3.format(".1f")).tickSize(3).tickPadding(2), x + 5.5, 11.5);
}
colorbar("cbF", 736, 215, 303.3, [[0, "#f7fbff"], [0.05, "#c6dbef"], [0.12, "#4a8fc8"], [0.25, "#0b4a8f"], [1, "#08306b"]]);
title(769, 259, ["Posterior probability"], 11, 90);

// ---------- Panel g ----------
panelLabel("g", 0, 363);
const xG = d3.scaleLinear().domain([0, genomeLen]).range([42.7, 334.3]);
const yG = d3.scaleLinear().domain([0, 1]).range([471.7, 370]);
clip("clipG", 42.7, 370, 334.3, 471.7);
const gG = svg.append("g").attr("clip-path", "url(#clipG)");
chrStart.slice(1).forEach(s => gG.append("line").attr("x1", xG(s)).attr("x2", xG(s)).attr("y1", 370).attr("y2", 471.7)
  .attr("stroke", "#bdbdbd").attr("stroke-width", 1.6));
gG.append("path").datum(gProfile).attr("d", d3.area().x(d => xG(d[0])).y0(d => yG(Math.max(0, d[1] - d[2])))
  .y1(d => yG(Math.min(1, d[1] + d[2])))).attr("fill", "#ffd18c").attr("opacity", 0.8);
gG.append("line").attr("x1", 46.7).attr("x2", 333.3).attr("y1", yG(0.5)).attr("y2", yG(0.5)).attr("stroke", "#000").attr("stroke-width", 1.3);
gG.append("path").datum(gProfile).attr("d", d3.line().x(d => xG(d[0])).y(d => yG(d[1])))
  .attr("fill", "none").attr("stroke", "#ffa000").attr("stroke-width", 2.2).attr("stroke-linejoin", "round");
frame(42.7, 370, 334.3, 471.7, 1.5);
xAxis(d3.axisBottom(xG).tickValues(chrMid).tickFormat((d, i) => chrNames[i]).tickSize(3), 471.7, 11.5, 12);
yAxis(d3.axisLeft(yG).tickValues([1]).tickFormat(fmtInt).tickSize(4).tickPadding(3), 42.7, 11.5);
title(188, 502, ["Chromosome"], 12);
title(16, 420, ["Allele frequency"], 12, -90);
svg.append("text").attr("x", xG(flcPos)).attr("y", 358.5).attr("text-anchor", "middle").attr("font-size", 10)
  .attr("font-weight", "bold").attr("font-style", "italic").attr("fill", "#ff0000").text("FLC");
svg.append("path").attr("d", `M${xG(flcPos) - 5},361.7H${xG(flcPos) + 5}L${xG(flcPos)},368.5Z`).attr("fill", "#ff0000");

// ---------- Panel h ----------
panelLabel("h", 358, 362);
const xH = d3.scaleLinear().domain([18.5, 74.5]).range([406, 528.3]);
const yH = d3.scaleLinear().domain([-1.14, 23.7]).range([466.7, 370.7]);
svg.append("line").attr("x1", xH(32.5)).attr("x2", xH(72)).attr("y1", yH(0)).attr("y2", yH(0)).attr("stroke", "#aaa").attr("stroke-width", 1);
svg.append("line").attr("x1", xH(hCol0[1][0])).attr("x2", xH(hCol0[1][0])).attr("y1", yH(7.6)).attr("y2", yH(23)).attr("stroke", "#aaa").attr("stroke-width", 1.2);
hFLCminus.forEach(d => svg.append("path").attr("d", tri(34)).attr("transform", `translate(${xH(d[0])},${yH(d[1])})`).attr("fill", "#ffb347").attr("opacity", 0.55));
const hCols = ["#a8a8a8", colFogo];
hCol0.forEach((d, i) => {
  svg.append("path").attr("d", sq(14)).attr("transform", `translate(${xH(d[0])},${yH(d[1])})`).attr("fill", hCols[i]).attr("stroke", "#000").attr("stroke-width", 1.3);
  svg.append("path").attr("d", sq(4.5)).attr("transform", `translate(${xH(d[0])},${yH(d[1])})`).attr("fill", "#000");
});
svg.append("path").attr("d", tri(230)).attr("transform", `translate(${xH(hMean[0])},${yH(hMean[1])})`).attr("fill", colFogo).attr("stroke", "#000").attr("stroke-width", 1.6);
svg.append("path").attr("d", tri(32)).attr("transform", `translate(${xH(hMean[0])},${yH(hMean[1])})`).attr("fill", "#000");
frame(406, 370.7, 528.3, 466.7, 1.5);
xAxis(d3.axisBottom(xH).tickValues([20, 40, 60]).tickFormat(fmtInt).tickSize(4), 466.7, 12, 16.3);
yAxis(d3.axisLeft(yH).tickValues([0, 5, 10, 15, 20]).tickFormat(fmtInt).tickSize(4).tickPadding(3), 406, 12);
title(467, 497, ["Days to bolting"], 12);
title(374, 414, ["Seed number (x100)"], 12, -90);
const hSymY = [379.3, 395, 409], hTxtY = [384, 399, 413];
hLegend.forEach((p, i) => {
  if (i === 0) svg.append("path").attr("d", tri(30)).attr("transform", `translate(461.7,${hSymY[i]})`).attr("fill", colFogo);
  else svg.append("rect").attr("x", 459.8).attr("y", hSymY[i] - 3.5).attr("width", 7).attr("height", 7)
    .attr("fill", i === 1 ? "#aaaaaa" : colFogo).attr("stroke", i === 1 ? "#888" : "none").attr("stroke-width", 0.6);
  const t = svg.append("text").attr("x", 471).attr("y", hTxtY[i]).attr("font-size", 12);
  addParts(t, [p[0], { t: p[1], i: true }, { t: p[2], sup: true }], 12);
});

// ---------- Panel i ----------
panelLabel("i", 565, 362);
const xI = d3.scaleLinear().domain([0, 5.96]).range([626, 727.3]);
const yI = d3.scaleLinear().domain([0, 1]).range([450.3, 375.7]);
clip("clipI", 626, 374, 727.3, 452);
const gI = svg.append("g").attr("clip-path", "url(#clipI)");
gI.append("rect").attr("x", 626).attr("y", 375.7).attr("width", 101.3).attr("height", 74.6).attr("fill", "#fff1e2");
gI.append("rect").attr("x", xI(4.1)).attr("y", 375.7).attr("width", 727.3 - xI(4.1)).attr("height", 74.6).attr("fill", "#feecd8");
gI.append("rect").attr("x", xI(4.15)).attr("y", yI(0.06)).attr("width", 727.3 - xI(4.15)).attr("height", yI(0) - yI(0.06)).attr("fill", "#f7a660").attr("opacity", 0.6).attr("filter", "url(#blur1)");
const iIdx = d3.range(iTime.length);
const iLine = d3.line().x(i => xI(iTime[i])).y(i => yI(iMean[i])).curve(d3.curveMonotoneX);
gI.append("path").datum(iIdx).attr("d", iLine).attr("fill", "none").attr("stroke", "#9a8a80").attr("stroke-width", 1.6);
gI.append("path").datum(iIdx.filter(i => iTime[i] >= 4.05)).attr("d", iLine).attr("fill", "none").attr("stroke", "#6b2a0a").attr("stroke-width", 1.8);
xAxis(d3.axisBottom(xI).tickValues([0, 1, 2, 3, 4, 5]).tickFormat(fmtInt).tickSize(3), 450.3, 12, 19.7);
yAxis(d3.axisLeft(yI).tickValues(freqTicks).tickFormat(d3.format(".2f")).tickSize(3).tickPadding(2), 626, 11.5);
title(677, 492, ["Time (10", { t: "3", sup: true }, " years ago)"], 12);
title(588, 413, ["Allele frequency"], 12, -90);
colorbar("cbI", 734, 375.7, 450.3, [[0, "#fff1e2"], [0.06, "#fdae6b"], [0.14, "#d94801"], [0.3, "#8c2d04"], [1, "#7f2704"]]);
title(769, 413, ["Posterior probability"], 11, 90);
</script></body></html>
